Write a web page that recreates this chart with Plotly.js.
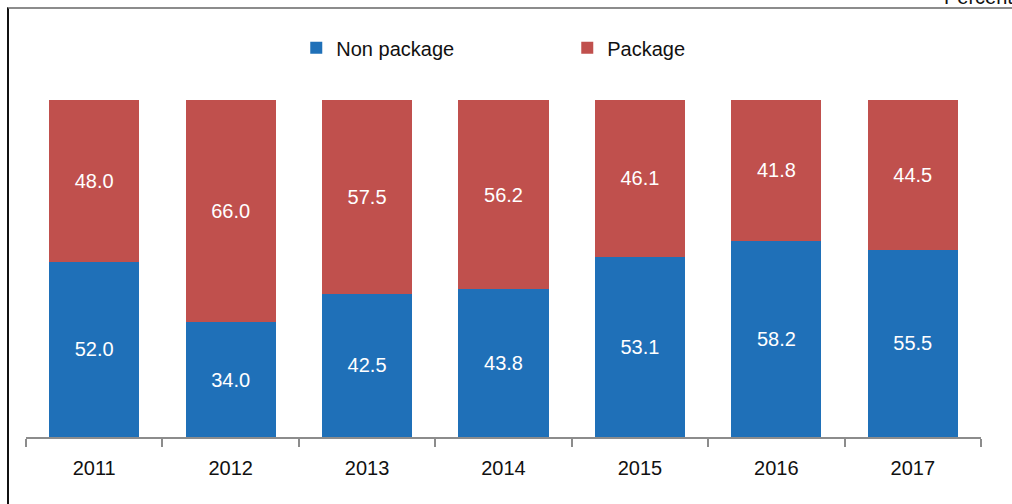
<!DOCTYPE html>
<html>
<head>
<meta charset="utf-8">
<script src="https://cdn.plot.ly/plotly-3.0.1.min.js"></script>
<style>
  html, body { margin: 0; padding: 0; background: #fff; }
  #wrap { position: relative; width: 1012px; height: 504px; overflow: hidden; }
  #chart { position: absolute; left: 0; top: 0; width: 1012px; height: 504px; }
  #frame { position: absolute; left: 7px; top: 7px; width: 1010px; height: 510px;
           border-top: 2px solid #8c8c8c; border-left: 2px solid #111; pointer-events: none; }
  #unit { position: absolute; left: 944px; top: -14px; font: 20px "Liberation Sans", Arial, sans-serif; color: #111; }
</style>
</head>
<body>
<div id="wrap">
  <div id="chart"></div>
  <div id="frame"></div>
  <div id="unit">Percent</div>
</div>
<script>
const years = ['2011', '2012', '2013', '2014', '2015', '2016', '2017'];
const nonPackage = [52.0, 34.0, 42.5, 43.8, 53.1, 58.2, 55.5];
const packageShare = [48.0, 66.0, 57.5, 56.2, 46.1, 41.8, 44.5];

const font = '"Liberation Sans", Arial, Helvetica, sans-serif';

function barTrace(name, values, color) {
  return {
    type: 'bar',
    name,
    x: years,
    y: values,
    marker: { color, line: { width: 0 } },
    text: values.map((v) => v.toFixed(1)),
    textposition: 'inside',
    insidetextanchor: 'middle',
    textangle: 0,
    textfont: { family: font, size: 20, color: '#ffffff' },
    hoverinfo: 'skip',
  };
}

Plotly.newPlot('chart', [
  barTrace('Non package', nonPackage, '#1f70b8'),
  barTrace('Package', packageShare, '#c0504d'),
], {
  width: 1012,
  height: 504,
  margin: { l: 26, r: 31, t: 100, b: 67 },
  paper_bgcolor: '#ffffff',
  plot_bgcolor: '#ffffff',
  barmode: 'stack',
  barnorm: 'percent',
  bargap: 0.34,
  font: { family: font, size: 20, color: '#111' },
  showlegend: true,
  legend: {
    orientation: 'h',
    x: 0.283,
    xanchor: 'left',
    y: 1.155,
    yanchor: 'middle',
    entrywidth: 226,
    entrywidthmode: 'pixels',
    font: { family: font, size: 20, color: '#111' },
    traceorder: 'normal',
  },
  xaxis: {
    type: 'category',
    showgrid: false,
    zeroline: false,
    showline: true,
    linecolor: '#8c8c8c',
    linewidth: 2,
    ticks: 'outside',
    tickson: 'boundaries',
    ticklen: 8,
    tickcolor: '#8c8c8c',
    tickwidth: 2,
    ticklabelstandoff: 12,
    tickfont: { family: font, size: 20, color: '#111' },
  },
  yaxis: {
    range: [0, 100],
    visible: false,
    showgrid: false,
    zeroline: false,
  },
}, { displayModeBar: false, staticPlot: true });
</script>
</body>
</html>
